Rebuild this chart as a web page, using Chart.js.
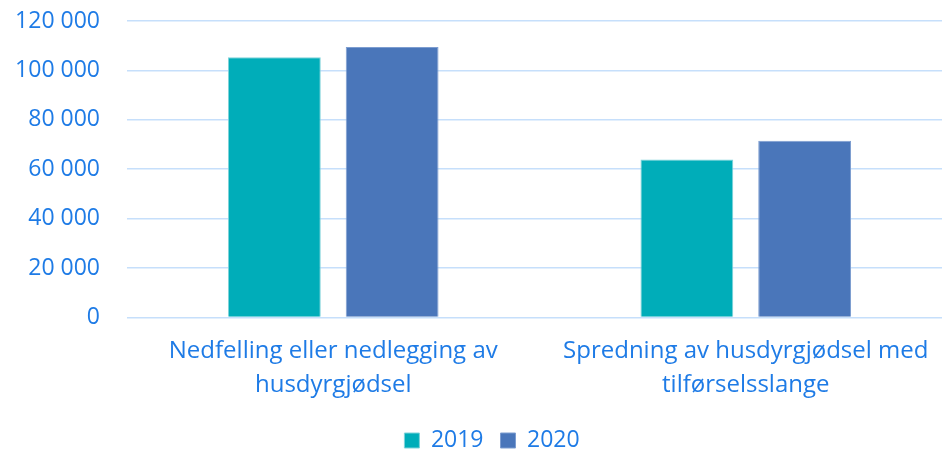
<!DOCTYPE html>
<html>
<head>
<meta charset="utf-8">
<script src="https://cdn.jsdelivr.net/npm/chart.js@4"></script>
<style>
  html, body { margin: 0; padding: 0; background: #ffffff; overflow: hidden; }
  #wrap { position: relative; width: 952px; height: 453px; }
</style>
</head>
<body>
<div id="wrap"><canvas id="c"></canvas></div>
<script>
const categories = [
  ["Nedfelling eller nedlegging av", "husdyrgjødsel"],
  ["Spredning av husdyrgjødsel med", "tilførselsslange"]
];
const seriesNames = ["2019", "2020"];
const values2019 = [105300, 63900];
const values2020 = [109500, 71500];
const yTicks = [0, 20000, 40000, 60000, 80000, 100000, 120000];

const textColor = "#1E7BE6";
const gridColor = "#C6DFFB";
const fontFamily = "'Open Sans', 'Noto Sans', sans-serif";

function fmt(v) {
  return String(v).replace(/\B(?=(\d{3})+(?!\d))/g, " ");
}

const legendShift = {
  id: "legendShift",
  afterLayout(chart) {
    if (chart.legend) {
      chart.legend.left += 18;
    }
  }
};

new Chart(document.getElementById("c"), {
  type: "bar",
  data: {
    labels: categories,
    datasets: [
      { label: seriesNames[0], data: values2019, backgroundColor: "#00ADB9", borderColor: "#7FD3DA", borderWidth: 1 },
      { label: seriesNames[1], data: values2020, backgroundColor: "#4A76BA", borderColor: "#7D9DD0", borderWidth: 1 }
    ]
  },
  plugins: [legendShift],
  options: {
    responsive: true,
    maintainAspectRatio: false,
    animation: false,
    layout: { padding: { left: 14, right: 0, top: 21, bottom: -9 } },
    datasets: { bar: { categoryPercentage: 0.571, barPercentage: 0.788 } },
    scales: {
      x: {
        grid: { display: false, drawTicks: false },
        border: { display: false },
        afterFit: (axis) => { axis.height = axis.height - 7; },
        ticks: {
          color: textColor,
          font: { family: fontFamily, size: 24, lineHeight: 1.45 },
          padding: 16,
          maxRotation: 0,
          autoSkip: false
        }
      },
      y: {
        min: 0,
        max: 120000,
        afterBuildTicks: (axis) => { axis.ticks = yTicks.map(v => ({ value: v })); },
        afterFit: (axis) => { axis.width = 113; axis.paddingTop = 0; axis.paddingBottom = 0; },
        grid: { color: gridColor, lineWidth: 1.5, drawTicks: false },
        border: { display: false },
        ticks: {
          color: textColor,
          font: { family: fontFamily, size: 23 },
          padding: 27,
          callback: (v) => fmt(v)
        }
      }
    },
    plugins: {
      legend: {
        position: "bottom",
        labels: {
          color: textColor,
          font: { family: fontFamily, size: 23 },
          boxWidth: 15,
          boxHeight: 15,
          padding: 17
        }
      },
      tooltip: { enabled: false }
    }
  }
});
</script>
</body>
</html>
